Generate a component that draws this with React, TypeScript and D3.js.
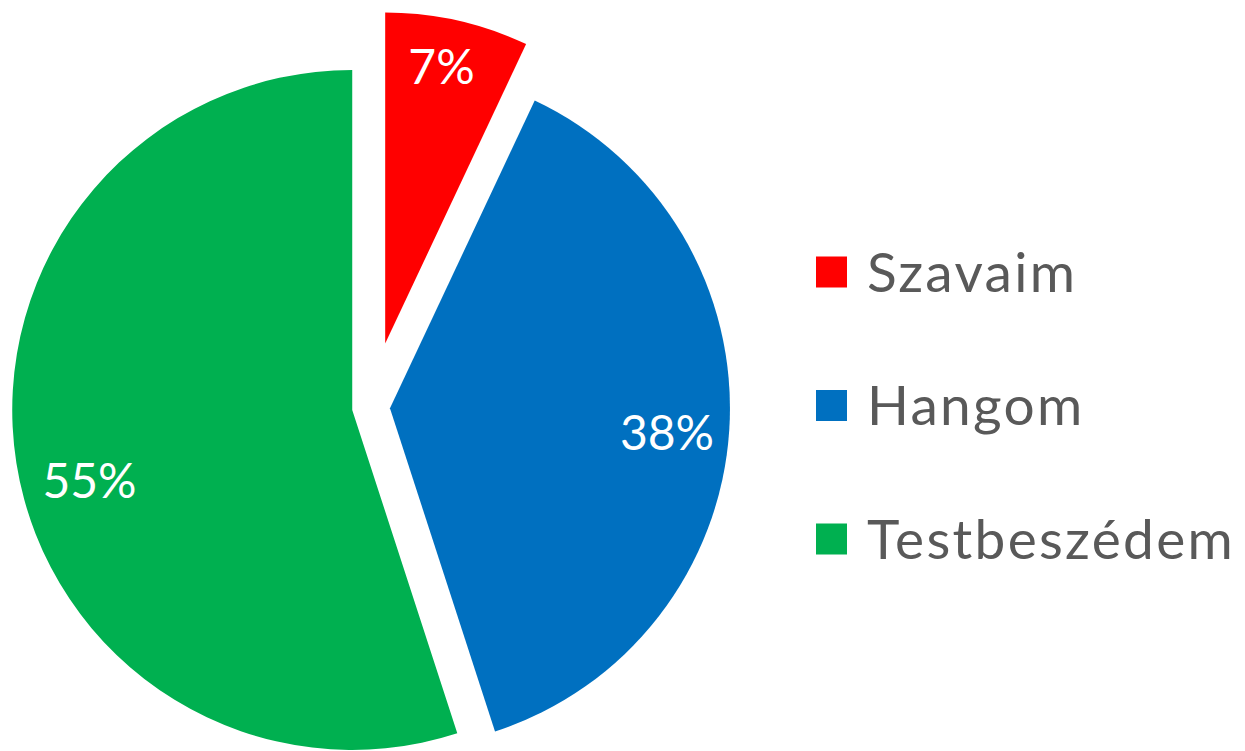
import React from "react";
import * as d3 from "d3";

const categories = ["Szavaim", "Hangom", "Testbeszédem"];
const values = [7, 38, 55];
const colors = ["#FF0000", "#0070C0", "#00B050"];

// styling (not data)
const W = 1245;
const H = 751;
const CX = 371;
const CY = 407;
const radii = [331, 340, 340];
const explode = [65, 19, 19];
const labelAngleNudge = [-1.1, 1.4, -6]; // degrees
const labelRadiusFrac = [0.854, 0.818, 0.8];
const FONT = "Lato, 'Open Sans', sans-serif";

export default function App() {
  const pie = d3
    .pie<number>()
    .sort(null)
    .value((d) => d)
    .startAngle(0)
    .endAngle(2 * Math.PI);
  const arcsData = pie(values);
  const total = d3.sum(values);

  const legendY = d3
    .scalePoint<string>()
    .domain(categories)
    .range([272, 539]);

  return (
    <svg
      width={W}
      height={H}
      style={{ position: "absolute", left: 0, top: 0, background: "#fff" }}
    >
      {arcsData.map((a, i) => {
        const mid = (a.startAngle + a.endAngle) / 2;
        const ox = Math.sin(mid) * explode[i];
        const oy = -Math.cos(mid) * explode[i];
        const arcGen = d3.arc<d3.PieArcDatum<number>>().innerRadius(0).outerRadius(radii[i]);
        const la = mid + (labelAngleNudge[i] * Math.PI) / 180;
        const lr = radii[i] * labelRadiusFrac[i];
        const lx = Math.sin(la) * lr;
        const ly = -Math.cos(la) * lr;
        const pct = Math.round((values[i] / total) * 100) + "%";
        return (
          <g key={i} transform={`translate(${CX + ox},${CY + oy})`}>
            <path d={arcGen(a) || ""} fill={colors[i]} />
            <text
              x={lx}
              y={ly}
              dy="0.36em"
              textAnchor="middle"
              fill="#fff"
              fontFamily={FONT}
              fontSize={48}
            >
              {pct}
            </text>
          </g>
        );
      })}
      {categories.map((c, i) => {
        const y = legendY(c) as number;
        return (
          <g key={c}>
            <rect x={816} y={y - 15.5} width={31} height={31} fill={colors[i]} />
            <text
              x={867}
              y={y}
              dy="0.36em"
              fill="#595959"
              fontFamily={FONT}
              fontSize={55}
              letterSpacing={2.3}
            >
              {c}
            </text>
          </g>
        );
      })}
    </svg>
  );
}
